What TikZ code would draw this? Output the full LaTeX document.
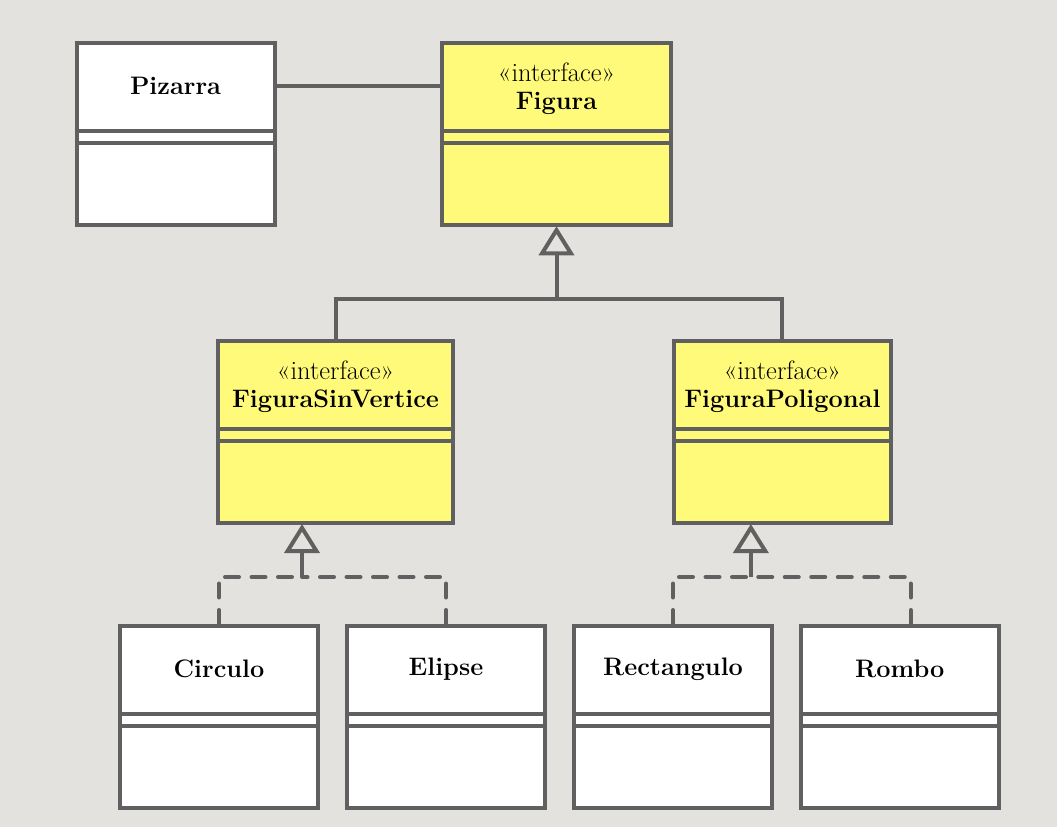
\documentclass[tikz,border=0pt]{standalone}
\usetikzlibrary{arrows.meta,calc}
\definecolor{bg}{RGB}{227,226,223}
\definecolor{edgec}{RGB}{96,96,96}
\definecolor{uyellow}{RGB}{255,250,122}
\tikzset{
  edgeline/.style={draw=edgec, line width=4pt},
  classbox/.style={rectangle, draw=edgec, line width=4pt, minimum height=182pt, inner sep=0pt},
  ctitle/.style={font=\fontsize{25.3}{29}\selectfont\bfseries, text=black, inner sep=0pt},
  cster/.style={font=\fontsize{26.5}{30}\selectfont, text=black, inner sep=0pt},
  dashedge/.style={edgeline, dash pattern=on 14pt off 12.5pt, line cap=round},
  genarrow/.style={edgeline, -{Triangle[open, length=29pt, width=35pt]}}
}
\newcommand\umlclass[7]{%
  \node[classbox, fill=#5, minimum width=#4pt, anchor=north west] (#1) at (#2,#3) {};
  \draw[edgeline] ([yshift=-89.5pt]#1.north west) -- ([yshift=-89.5pt]#1.north east);
  \draw[edgeline] ([yshift=-102pt]#1.north west) -- ([yshift=-102pt]#1.north east);
  \ifx&#6&%
    \node[ctitle] (#1-t) at ([yshift=-45pt]#1.north) {#7};
  \else
    \node[cster] (#1-s) at ([yshift=-31pt]#1.north) {«#6»};
    \node[ctitle] (#1-t) at ([yshift=-62pt]#1.north) {#7};
  \fi
}
\begin{document}
\begin{tikzpicture}[x=1pt, y=-1pt]
  \fill[bg] (0,0) rectangle (1057,827);
  \useasboundingbox (0,0) rectangle (1057,827);

  \umlclass{piz}{74.5}{41.3}{198}{white}{}{Pizarra}
  \umlclass{fig}{440.3}{41.3}{228.4}{uyellow}{interface}{Figura}
  \umlclass{fsv}{216}{339}{235}{uyellow}{interface}{FiguraSinVertice}
  \umlclass{fpol}{672}{339}{216.7}{uyellow}{interface}{FiguraPoligonal}
  \umlclass{circ}{118}{624}{198}{white}{}{Circulo}
  \umlclass{elip}{345}{624}{198}{white}{}{Elipse}
  \umlclass{rect}{572}{624}{198}{white}{}{Rectangulo}
  \umlclass{romb}{798.5}{624}{198.5}{white}{}{Rombo}

  % association
  \draw[edgeline] ([yshift=-45pt]piz.north east) -- ([yshift=-45pt]fig.north west);

  % generalization
  \coordinate (jt) at ($(fig.south)+(0,71.5)$);
  \draw[edgeline] (fsv.north) |- (jt) -| (fpol.north);
  \draw[genarrow] (jt) -- ($(fig.south)+(0,-1)$);

  % realizations
  \coordinate (jl) at ($(fsv.south)+(-33.5,52)$);
  \coordinate (jr) at ($(fpol.south)+(-31.5,52)$);
  \draw[dashedge] (circ.north) |- (jl);
  \draw[dashedge] (elip.north) |- (jl);
  \draw[dashedge] (rect.north) |- (jr);
  \draw[dashedge] ([xshift=11pt]romb.north) |- (jr);
  \draw[genarrow] (jl) -- ($(fsv.south)+(-33.5,-1)$);
  \draw[genarrow] (jr) -- ($(fpol.south)+(-31.5,-1)$);
\end{tikzpicture}
\end{document}
